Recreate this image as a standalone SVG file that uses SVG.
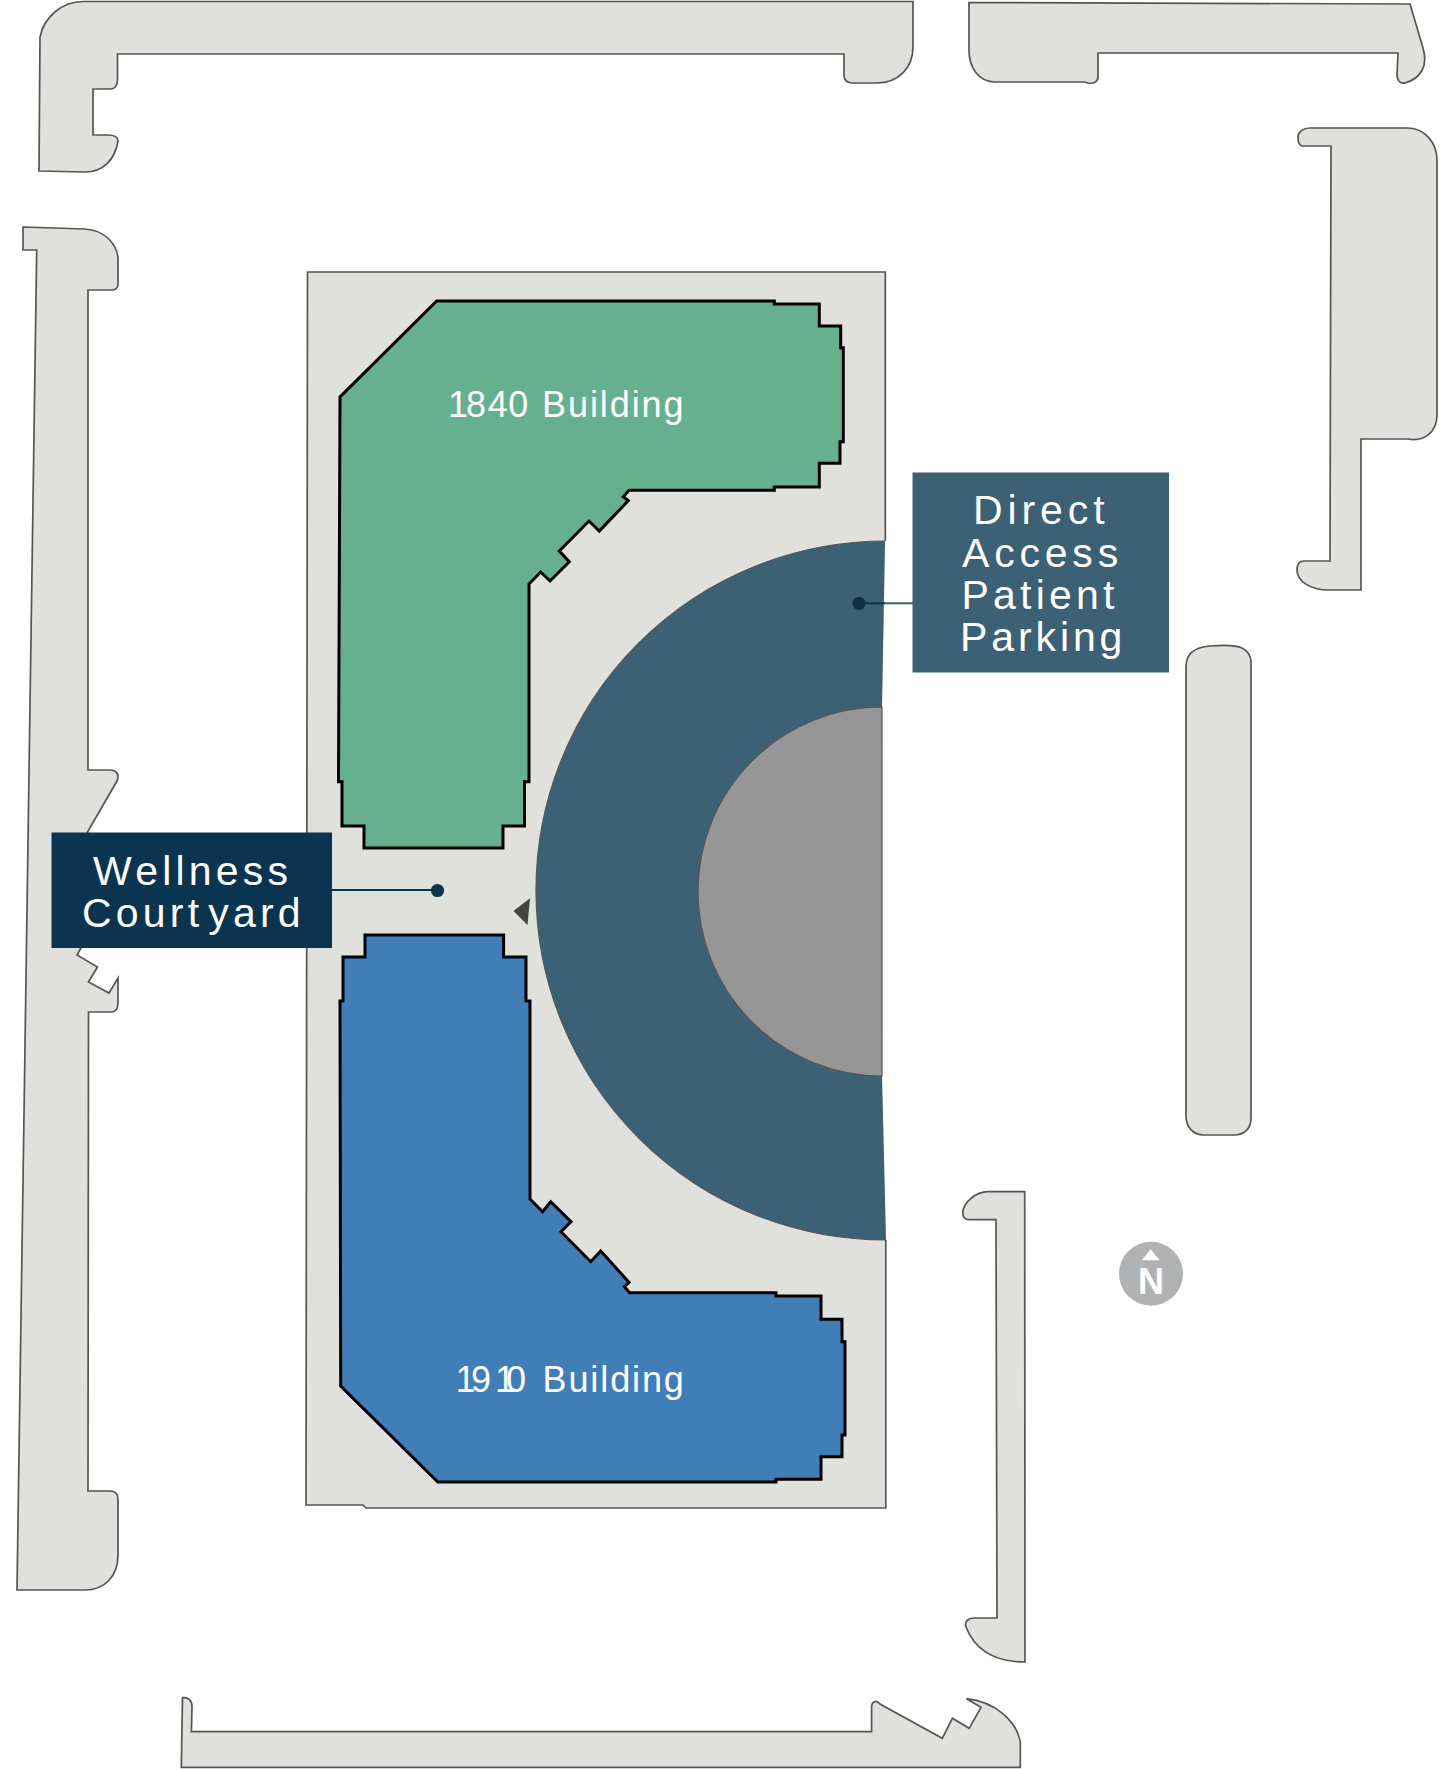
<svg xmlns="http://www.w3.org/2000/svg" width="1440" height="1769" viewBox="0 0 1440 1769">
<style>
.lot{fill:#e0e1dc;stroke:#555;stroke-width:1.7;stroke-linejoin:miter}
.bld{stroke:#000;stroke-width:3;stroke-linejoin:miter}
.t{font-family:"Liberation Sans",Arial,sans-serif;fill:#fff}
.bt{font-size:36px;letter-spacing:1.9px}
.lt{font-size:41px;letter-spacing:4.2px}
</style>
<rect width="1440" height="1769" fill="#fff"/>
<g id="surroundings">
<path class="lot" d="M40,37C44,17 62,1.5 83,1.5L913,1.5L913,47C913,68 898,83 877,83L853,83C847,83 844,80 844,75L844,54L117.5,54L117.5,80C117.5,86 114,89 111,89L93,89L93,135L108,135C114,135 118,137 118,141C115,160 103,172 85,172L39,171Z"/>
<path class="lot" d="M969,2.5L1410,4L1423,48C1428,65 1422,78 1405,83C1400,84 1397,80 1397,75L1398,53L1098,53L1098,77C1098,82 1093,84 1088,83C1086,82.500 1085,82 1084,82L995,82C979,82 969,68 969,50Z"/>
<path class="lot" d="M1310,128L1407,128C1425,128 1437,143 1437,160L1437,415C1437,433 1423,442 1408,439L1361,439L1361,590L1329,590C1310,590 1297,581 1297,570C1297,564 1299,561 1304,561L1330,561L1331,146L1303,146C1299,146 1298,142 1298,137C1298,132 1303,128 1310,128Z"/>
<path class="lot" d="M1186,667C1186,652 1196,647 1210,646C1222,645 1236,645 1242,648C1248,651 1251,656 1251,662L1251,1118C1251,1129 1244,1135 1234,1135L1204,1135C1193,1135 1186,1127 1186,1116Z"/>
<path class="lot" d="M23,227L85,229C105,230 118,245 118,260L118,285C118,288 115,290 112,290L88,290L88,770L110,770C116,770 120,774 117,781L87.500,832L81,948L77,955L97.500,967L88.500,982L109,993L118,978L118,1003C118,1009 115,1012 111,1012L88.500,1012L88,1491L110,1491C115,1491 118,1494 118,1499L118,1555C118,1577 104,1590 85,1590L17,1590L36.700,250L23,250Z"/>
<path class="lot" d="M988,1191.700L1024.700,1191.700L1025,1662C995,1662 975,1650 966,1627C964,1622 968,1618 974.600,1618L997,1618L996,1219.700L969,1219.700C964,1219.700 962.700,1216 962.700,1211.700C964,1203 975,1191.700 988,1191.700Z"/>
<path class="lot" d="M182.500,1697.700C188,1697 192,1700 192,1706.700L191.400,1731.700L871.600,1731.700L871.600,1706.700C871.600,1702 876,1699 880,1704L942.300,1738.300L952.400,1718.300L969.200,1728.300L981,1707.300L966.400,1698.700C995,1702 1016,1720 1020.300,1741.700L1020.300,1767.300L181.300,1767.300Z"/>
</g>
<g id="site">
<path d="M307.500,272L885.300,272L885.300,541L882,707L882,1076L885.800,1240L885.800,1508L366,1508L363,1505L306,1505Z" fill="#e0e1dc"/>
<path class="lot" style="fill:none" d="M885.300,541L885.300,272L307.500,272L306,1505L363,1505L366,1508L885.800,1508L885.800,1240"/>
</g>
<g id="parking">
<path d="M885,541A349.500,349.500 0 0 0 886,1240L882,1076L882,707Z" fill="#3c6074"/>
<path d="M885,541A349.500,349.500 0 0 0 886,1240" fill="none" stroke="#555" stroke-width="1.2"/>
</g>
<g id="garage"><path d="M882,707A184,184.500 0 0 0 882,1076Z" fill="#969696" stroke="#555" stroke-width="1.2"/></g>
<g id="building-1840">
<path class="bld" fill="#67b08f" d="M436.700,301L774.300,301L774.300,304L819.300,304L819.300,326L840.700,326L840.700,347.700L843.300,347.700L843.300,441.700L840,441.700L840,463.300L819.300,463.300L819.300,487L774.300,487L774.300,490.300L629,490.300L623.300,496.700L628.300,500.700L599.300,531L589,521L559.300,551L569.300,561.700L550,581L540.700,572L529,584L529,781.700L524.500,781.700L524.500,826L503,826L503,848L364,848L364,826L342,826L342,781.700L338.500,781.700L340,397Z"/>
<text class="t bt" x="448" y="416.700" dx="0 -4 0 -1.500">1840 Building</text>
</g>
<g id="building-1910">
<path class="bld" fill="#417eb8" d="M365,935L503.600,935L503.600,957L526,957L526,1001L530,1001L530,1199L542.600,1211.700L550.700,1201.700L571,1221.700L561,1231.700L590.700,1261.700L600.700,1251L629,1282.300L624.400,1286.700L629.600,1292.700L776,1292.700L776,1296L821,1296L821,1319.300L842,1319.300L842,1341.700L845,1341.700L845,1435L842,1435L842,1456.700L821,1456.700L821,1479.300L776,1479.300L776,1482L437.800,1482L340.700,1386L340,1001L343,1001L343,957L365,957Z"/>
<text class="t bt" x="455.500 471 495 506 526 542.500" y="1391.700">1910 Building</text>
</g>
<g id="entrance"><path d="M513.500,911L530,898.300L527.500,925Z" fill="#444"/></g>
<g id="connectors" fill="none">
<line x1="332" y1="890" x2="437" y2="890" stroke="#0a344f" stroke-width="1.8"/>
<line x1="859" y1="603.300" x2="885" y2="603.300" stroke="#0f3145" stroke-width="2"/>
<line x1="885" y1="603.300" x2="913" y2="603.300" stroke="#3c6074" stroke-width="2"/>
</g>
<g id="wellness-courtyard">
<rect x="51.500" y="832.500" width="280.500" height="115.500" fill="#0a344f"/>
<circle cx="437.500" cy="890.500" r="6.600" fill="#0a344f"/>
<text class="t lt" x="93" y="885">Wellness</text>
<text class="t lt" x="82" y="927" dx="0 0 0 0 0 5">Courtyard</text>
</g>
<g id="direct-access-parking">
<rect x="912.500" y="472.500" width="256.500" height="200" fill="#3c6074"/>
<circle cx="859" cy="603.300" r="6.600" fill="#0f3145"/>
<text class="t lt" x="973" y="524.300" style="letter-spacing:4.9px">Direct</text>
<text class="t lt" x="962" y="566.700" style="letter-spacing:4.8px">Access</text>
<text class="t lt" x="961.500" y="609.300">Patient</text>
<text class="t lt" x="960" y="651" style="letter-spacing:3.9px">Parking</text>
</g>
<g id="north">
<circle cx="1151" cy="1273.700" r="32" fill="#b1b2b3"/>
<path d="M1150.700,1249.300L1141.700,1260.300L1159.700,1260.300Z" fill="#fff"/>
<text class="t" x="1151" y="1294" text-anchor="middle" font-size="36" font-weight="700">N</text>
</g>
</svg>
